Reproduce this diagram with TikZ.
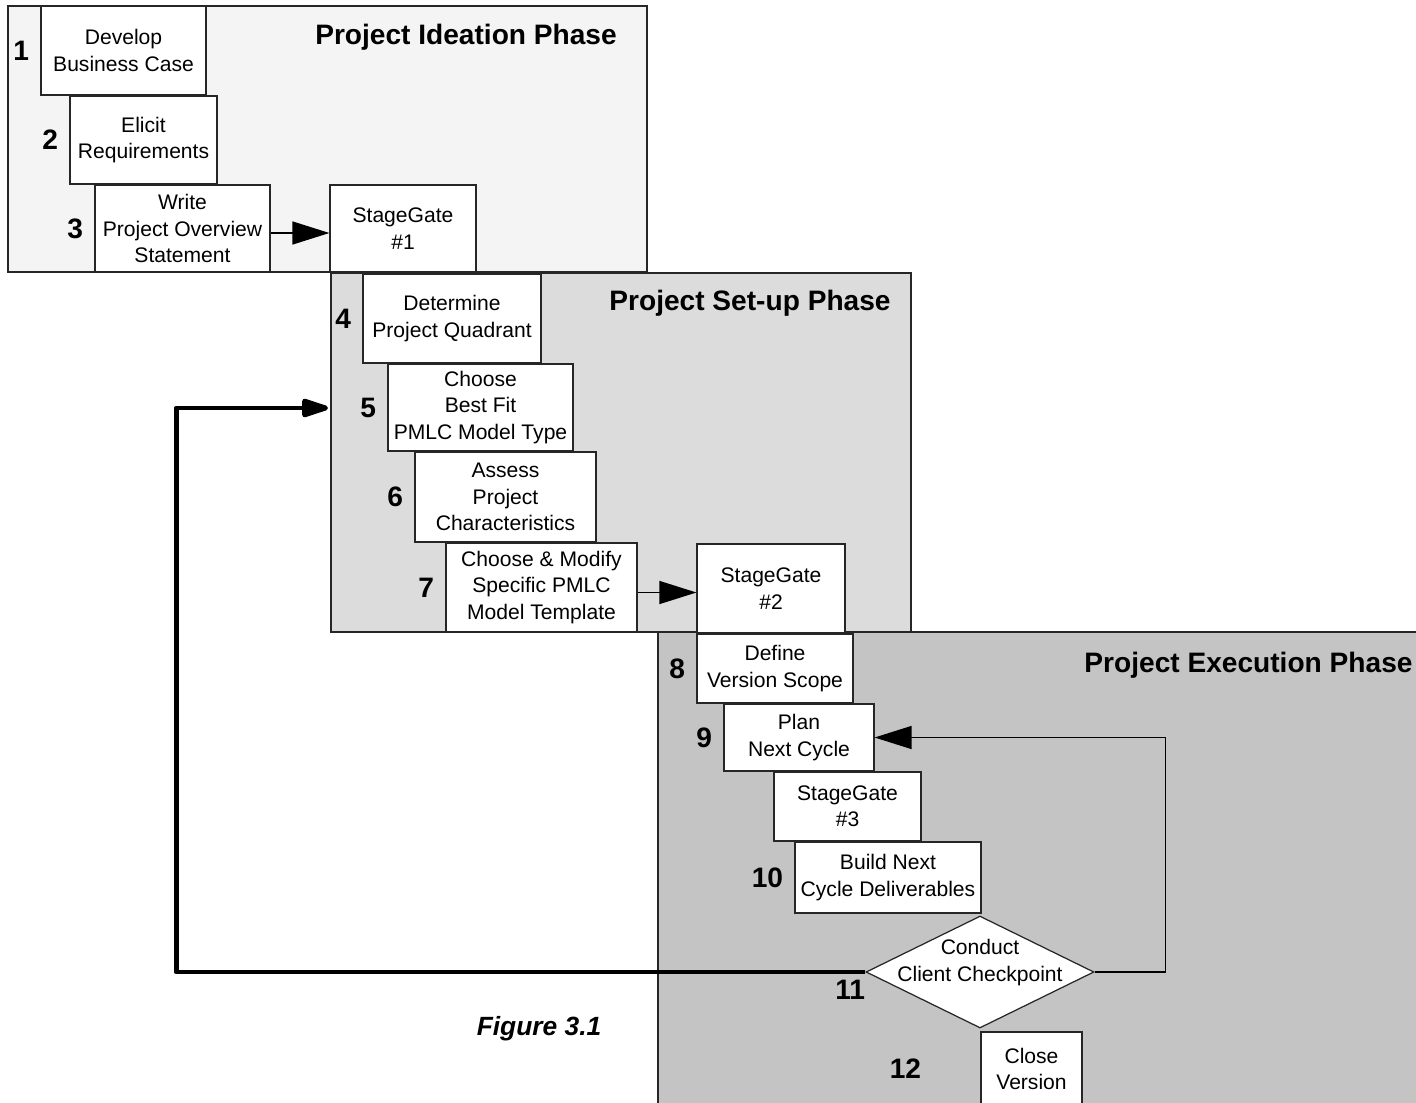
\documentclass[tikz,border=0pt]{standalone}
\usepackage{fontspec}
\setsansfont{Liberation Sans}
\usetikzlibrary{arrows.meta,shapes.geometric}

\definecolor{ideafill}{HTML}{F4F4F4}
\definecolor{setupfill}{HTML}{DCDCDC}
\definecolor{execfill}{HTML}{C4C4C4}

\begin{document}
\begin{tikzpicture}[
  x=0.02cm, y=-0.02cm,
  font=\sffamily\fontsize{12}{15}\selectfont,
  phase/.style={draw=black!85,line width=0.8pt,inner sep=0pt},
  title/.style={font=\sffamily\bfseries\fontsize{16}{19}\selectfont},
  block/.style={draw=black!85,line width=0.7pt,fill=white,align=center,inner sep=1pt},
  gate/.style={block},
  check/.style={draw=black!85,line width=0.7pt,fill=white,shape=diamond,inner sep=0pt},
  num/.style={font=\sffamily\bfseries\fontsize{16}{19}\selectfont,inner sep=0pt},
  to/.style={-{Triangle[length=0.74cm,width=0.46cm]},line width=0.8pt},
  loopback/.style={-{Triangle[length=0.64cm,width=0.38cm,round]},line width=2.8pt,line join=round},
  every label/.style={num,label distance=0.22cm}]

  \clip (0,0) rectangle (1416,1102);
  \fill[white] (0,0) rectangle (1416,1102);

  % The three phase panels
  \node[phase,fill=ideafill,minimum width=12.78cm,minimum height=5.32cm] (ideation) at (327.5,139) {};
  \node[phase,fill=setupfill,minimum width=11.60cm,minimum height=7.18cm] (setup) at (621,452.5) {};
  \node[phase,fill=execfill,minimum width=15.24cm,minimum height=9.56cm] (execution) at (1039,871) {};

  \node[title] (ideatitle) at (466,37) {Project Ideation Phase};
  \node[title] (setuptitle) at (750,303) {Project Set-up Phase};
  \node[title] (exectitle) at (1248.5,665) {Project Execution Phase};

  % Ideation steps
  \node[block,minimum width=3.30cm,minimum height=1.78cm,label=left:1] (buscase) at (123.5,50.5) {Develop\\Business Case};
  \node[block,minimum width=2.94cm,minimum height=1.76cm,label=left:2] (elicit) at (143.5,140) {Elicit\\Requirements};
  \node[block,minimum width=3.50cm,minimum height=1.74cm,label=left:3] (overview) at (182.5,228.5) {Write\\Project Overview\\Statement};
  \node[gate,minimum width=2.92cm,minimum height=1.74cm] (gateone) at (403,228.5) {StageGate\\\#1};

  % Set-up steps
  \node[block,minimum width=3.56cm,minimum height=1.78cm,label=left:4] (quadrant) at (452,318.5) {Determine\\Project Quadrant};
  \node[block,minimum width=3.70cm,minimum height=1.74cm,label=left:5] (bestfit) at (480.5,407.5) {Choose\\Best Fit\\PMLC Model Type};
  \node[block,minimum width=3.62cm,minimum height=1.80cm,label=left:6] (assess) at (505.5,497) {Assess\\Project\\Characteristics};
  \node[block,minimum width=3.82cm,minimum height=1.78cm,label=left:7] (template) at (541.5,587.5) {Choose \& Modify\\Specific PMLC\\Model Template};
  \node[gate,minimum width=2.96cm,minimum height=1.78cm] (gatetwo) at (771,588.5) {StageGate\\\#2};

  % Execution steps
  \node[block,minimum width=3.12cm,minimum height=1.38cm,label=left:8] (scope) at (775,668.5) {Define\\Version Scope};
  \node[block,minimum width=3.00cm,minimum height=1.34cm,label=left:9] (plan) at (799,737.5) {Plan\\Next Cycle};
  \node[gate,minimum width=2.94cm,minimum height=1.38cm] (gatethree) at (847.5,806.5) {StageGate\\\#3};
  \node[block,minimum width=3.72cm,minimum height=1.42cm,label=left:10] (build) at (888,877.5) {Build Next\\Cycle Deliverables};
  \node[check,minimum width=4.56cm,minimum height=2.24cm] (checkpoint) at (980,972) {};
  \node[align=center,inner sep=0pt] (checktext) at (980,962.5) {Conduct\\Client Checkpoint};
  \node[num,anchor=north east] (eleven) at ([yshift=-0.16cm]checkpoint.west) {11};
  \node[block,minimum width=2.02cm,minimum height=1.48cm,label={[label distance=1.18cm]left:12}] (closever) at (1031.5,1069) {Close\\Version};

  \node[font=\sffamily\bfseries\itshape\fontsize{15}{18}\selectfont] (caption) at (539,1029) {Figure 3.1};

  % Arrows
  \draw[to] ([yshift=-0.09cm]overview.east) -- ([yshift=-0.09cm]overview.east -| gateone.west);
  \draw[to] ([yshift=-0.1cm]template.east) -- ([yshift=-0.1cm]template.east -| gatetwo.west);
  \draw[to] (checkpoint.east) -- ++(71,0) |- (plan.east);
  \coordinate (reentry) at (328,408);
  \draw[loopback] (checkpoint.west) -- ++(-689,0) |- (reentry);
\end{tikzpicture}
\end{document}
